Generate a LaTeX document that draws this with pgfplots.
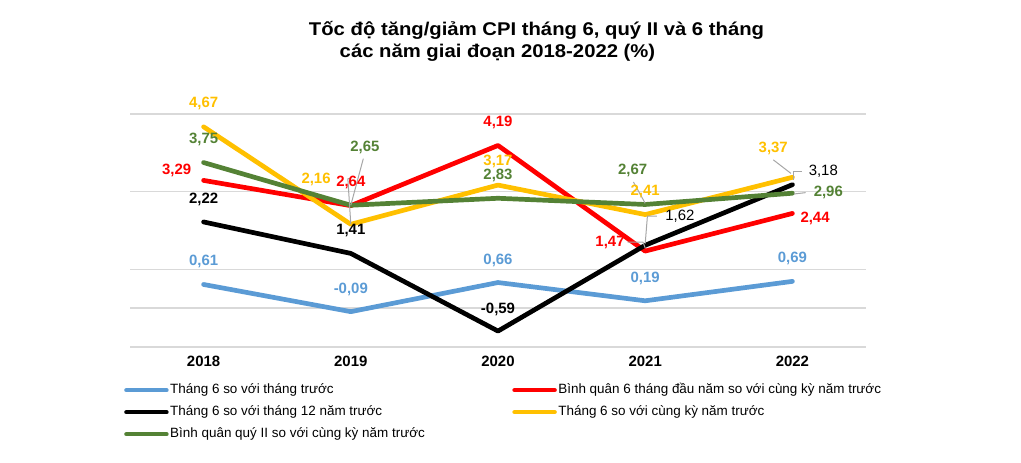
\documentclass[border=0pt]{standalone}
\usepackage{fontspec}
\setmainfont{Liberation Sans}
\usepackage{graphicx}
\usepackage{pgfplots}
\pgfplotsset{compat=1.18}
\definecolor{cblue}{HTML}{5B9BD5}
\definecolor{cred}{HTML}{FF0000}
\definecolor{cyel}{HTML}{FFC000}
\definecolor{cgreen}{HTML}{548235}
\definecolor{cgrid}{HTML}{D9D9D9}
\definecolor{clead}{HTML}{A6A6A6}
\begin{document}
\begin{tikzpicture}[
  lbl/.style={font=\fontsize{15}{18}\selectfont\bfseries, inner sep=0pt},
  lead/.style={draw=clead, line width=1bp}]
\useasboundingbox (0,0) rectangle (1021bp,463bp);
\node[anchor=base, font=\fontsize{18.5}{22}\selectfont\bfseries] at (536.5bp,427.3bp) {\scalebox{1.1}[1]{Tốc độ tăng/giảm CPI tháng 6, quý II và 6 tháng}};
\node[anchor=base, font=\fontsize{18.5}{22}\selectfont\bfseries] at (497.5bp,405.3bp) {\scalebox{1.1}[1]{các năm giai đoạn 2018-2022 (\%)}};
\begin{axis}[
  at={(130bp,116bp)}, anchor=south west,
  scale only axis, width=736bp, height=233bp,
  xmin=-0.5, xmax=4.5, ymin=-1, ymax=5,
  ytick={-1,0,1,3,5}, yticklabels={},
  xtick={0,1,2,3,4},
  xticklabels={\textbf{2018},\textbf{2019},\textbf{2020},\textbf{2021},\textbf{2022}},
  xticklabel style={font=\fontsize{15}{18}\selectfont\bfseries, yshift=-6bp},
  ymajorgrids, grid style={draw=cgrid, line width=1.6bp},
  axis line style={draw=none}, tick style={draw=none},
  clip=false,
  every axis plot/.append style={line width=4.7bp, line join=round, line cap=round},
  legend columns=2,
  legend cell align=left,
  legend image code/.code={\draw[#1, line width=4.5bp, line cap=round] (0bp,0bp) -- (40bp,0bp);},
  legend style={draw=none, fill=none, inner sep=0pt,
    at={(axis description cs:0,0)}, anchor=north west, xshift=-6bp, yshift=-35bp,
    font=\fontsize{13.5}{16}\selectfont,
    nodes={inner sep=1.5bp, text height=10bp, text depth=3bp},
    row sep=6bp,
    /tikz/every even column/.append style={column sep=86bp}},
]
\addplot[cblue] coordinates {(0,0.61) (1,-0.09) (2,0.66) (3,0.19) (4,0.69)};
\addlegendentry{Tháng 6 so với tháng trước}
\addplot[cred] coordinates {(0,3.29) (1,2.64) (2,4.19) (3,1.47) (4,2.44)};
\addlegendentry{Bình quân 6 tháng đầu năm so với cùng kỳ năm trước}
\addplot[black] coordinates {(0,2.22) (1,1.41) (2,-0.59) (3,1.62) (4,3.18)};
\addlegendentry{Tháng 6 so với tháng 12 năm trước}
\addplot[cyel] coordinates {(0,4.67) (1,2.16) (2,3.17) (3,2.41) (4,3.37)};
\addlegendentry{Tháng 6 so với cùng kỳ năm trước}
\addplot[cgreen] coordinates {(0,3.75) (1,2.65) (2,2.83) (3,2.67) (4,2.96)};
\addlegendentry{Bình quân quý II so với cùng kỳ năm trước}

% leader lines
\draw[lead] (axis cs:1,2.65) -- (axis cs:1.085,3.85);
\draw[lead] (axis cs:1,2.16) -- (axis cs:0.98,3.33) -- (axis cs:1.0,3.35);
\draw[lead] (axis cs:2.92,3.25) -- (axis cs:3.0,2.70);
\draw[lead] (axis cs:3.08,2.37) -- (axis cs:3.015,2.37) -- (axis cs:3.0,1.66);
\draw[lead] (axis cs:2.88,1.70) -- (axis cs:2.985,1.70) -- (axis cs:3.0,1.55);
\draw[lead] (axis cs:3.87,3.82) -- (axis cs:3.99,3.47);
\draw[lead] (axis cs:4.065,3.515) -- (axis cs:4.006,3.515) -- (axis cs:4.006,3.30);
\draw[lead] (axis cs:4.09,2.975) -- (axis cs:4.01,2.94);

% data labels
\node[lbl, cyel]   at (axis cs:0,5.277) {4,67};
\node[lbl, cgreen] at (axis cs:0,4.350) {3,75};
\node[lbl, cred]   at (axis cs:-0.183,3.559) {3,29};
\node[lbl, black]  at (axis cs:0,2.805) {2,22};
\node[lbl, cblue]  at (axis cs:0,1.198) {0,61};

\node[lbl, cgreen] at (axis cs:1.096,4.144) {2,65};
\node[lbl, cyel]   at (axis cs:0.764,3.320) {2,16};
\node[lbl, cred]   at (axis cs:1.0,3.242) {2,64};
\node[lbl, black]  at (axis cs:1.0,1.996) {1,41};
\node[lbl, cblue]  at (axis cs:1.0,0.487) {-0,09};

\node[lbl, cred]   at (axis cs:2,4.777) {4,19};
\node[lbl, cyel]   at (axis cs:2,3.773) {3,17};
\node[lbl, cgreen] at (axis cs:2,3.430) {2,83};
\node[lbl, cblue]  at (axis cs:2,1.241) {0,66};
\node[lbl, black]  at (axis cs:2,-0.028) {-0,59};

\node[lbl, cgreen] at (axis cs:2.915,3.559) {2,67};
\node[lbl, cyel]   at (axis cs:3.0,3.000) {2,41};
\node[lbl, black, font=\fontsize{15}{18}\selectfont] at (axis cs:3.236,2.374) {1,62};
\node[lbl, cred]   at (axis cs:2.761,1.687) {1,47};
\node[lbl, cblue]  at (axis cs:3.0,0.770) {0,19};

\node[lbl, cyel]   at (axis cs:3.870,4.118) {3,37};
\node[lbl, black, font=\fontsize{15}{18}\selectfont] at (axis cs:4.210,3.515) {3,18};
\node[lbl, cgreen] at (axis cs:4.244,2.975) {2,96};
\node[lbl, cred]   at (axis cs:4.154,2.315) {2,44};
\node[lbl, cblue]  at (axis cs:4.0,1.285) {0,69};
\end{axis}
\end{tikzpicture}
\end{document}
